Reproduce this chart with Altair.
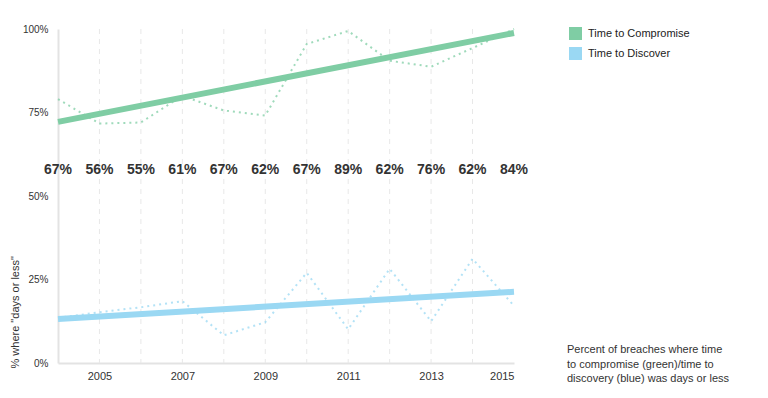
import altair as alt
import pandas as pd

years = list(range(2004, 2016))
compromise = [79.0, 71.7, 72.0, 80.0, 75.6, 74.1, 95.5, 99.4, 90.5, 88.7, 94.3, 100.0]
discover = [13.5, 15.2, 16.7, 18.5, 8.3, 12.2, 27.0, 10.1, 28.2, 12.5, 31.2, 17.1]
trend_years = [2004, 2015]
compromise_trend = [72.2, 98.8]
discover_trend = [13.2, 21.3]
year_labels = ["67%", "56%", "55%", "61%", "67%", "62%", "67%", "89%", "62%", "76%", "62%", "84%"]
series = ["Time to Compromise", "Time to Discover"]
colors = ["#7fcda4", "#9ad8f3"]
grid_years = list(range(2005, 2015))
tick_years = [2005, 2007, 2009, 2011, 2013, 2015]
y_ticks = [0, 25, 50, 75, 100]
note = "Percent of breaches where time\nto compromise (green)/time to\ndiscovery (blue) was days or less"

FONT = "Liberation Sans"

dotted = pd.DataFrame(
    {"year": years * 2,
     "value": compromise + discover,
     "series": [series[0]] * len(years) + [series[1]] * len(years)}
)
trend = pd.DataFrame(
    {"year": trend_years * 2,
     "value": compromise_trend + discover_trend,
     "series": [series[0]] * 2 + [series[1]] * 2}
)
labels = pd.DataFrame({"year": years, "label": year_labels})
grid = pd.DataFrame({"year": grid_years})

xscale = alt.Scale(domain=[2004, 2015], nice=False, zero=False)
yscale = alt.Scale(domain=[0, 100], nice=False)
cscale = alt.Scale(domain=series, range=colors)

x_enc = alt.X(
    "year:Q", scale=xscale,
    axis=alt.Axis(values=tick_years, format="d", title=None, grid=False, ticks=False,
                  domainColor="#e3e3e3", domainWidth=2, labelFont=FONT, labelFontSize=11,
                  labelColor="#333333", labelPadding=7),
)
y_enc = alt.Y(
    "value:Q", scale=yscale,
    axis=alt.Axis(values=y_ticks, labelExpr="datum.value + '%'", grid=False, ticks=False,
                  domainColor="#e3e3e3", domainWidth=2, labelFont=FONT, labelFontSize=10,
                  labelColor="#333333", labelPadding=10,
                  title='% where "days or less"', titleFont=FONT, titleFontSize=11,
                  titleFontWeight="normal", titleColor="#333333", titleAngle=270,
                  titleAlign="left", titleBaseline="middle", titleX=-43, titleY=339),
)

rules = alt.Chart(grid).mark_rule(color="#e8e8e8", strokeDash=[5, 5], strokeWidth=1).encode(
    x=alt.X("year:Q", scale=xscale)
)

dot_layers = []
trend_layers = []
for name, col in zip(series, colors):
    dot_layers.append(
        alt.Chart(dotted).transform_filter(alt.datum.series == name)
        .mark_line(strokeDash=[2, 4], strokeWidth=2, opacity=0.75, color=col)
        .encode(x=x_enc, y=y_enc)
    )
    trend_layers.append(
        alt.Chart(trend).transform_filter(alt.datum.series == name)
        .mark_line(strokeWidth=6, strokeCap="butt", color=col)
        .encode(x=alt.X("year:Q", scale=xscale), y=alt.Y("value:Q", scale=yscale))
    )

legend_layer = alt.Chart(trend).mark_square(size=0, opacity=1, filled=True).encode(
    x=alt.X("year:Q", scale=xscale),
    y=alt.Y("value:Q", scale=yscale),
    color=alt.Color(
        "series:N", scale=cscale,
        legend=alt.Legend(
            title=None, orient="none", legendX=511, legendY=-2, padding=0,
            symbolType="square", symbolSize=169, symbolStrokeWidth=0, symbolOpacity=1,
            labelFont=FONT, labelFontSize=11, labelColor="#222222", labelOffset=6,
            rowPadding=7,
        ),
    ),
)

pct = alt.Chart(labels).mark_text(font=FONT, fontSize=14, fontWeight="bold", color="#333333",
                                  baseline="middle", align="center").encode(
    x=alt.X("year:Q", scale=xscale),
    y=alt.value(141),
    text="label:N",
)

note_layer = alt.Chart(pd.DataFrame({"t": [note]})).mark_text(
    font=FONT, fontSize=11, color="#333333", align="left", baseline="middle",
    lineBreak="\n", lineHeight=14.5,
).encode(x=alt.value(509), y=alt.value(321), text="t:N")

chart = alt.layer(rules, *dot_layers, *trend_layers, legend_layer, pct, note_layer).properties(
    width=456, height=334,
    autosize=alt.AutoSizeParams(type="none"),
    padding={"left": 50, "top": 21, "right": 246, "bottom": 27},
).configure_view(stroke=None)

chart.save("out.html", embed_options={"renderer": "svg", "actions": False})
